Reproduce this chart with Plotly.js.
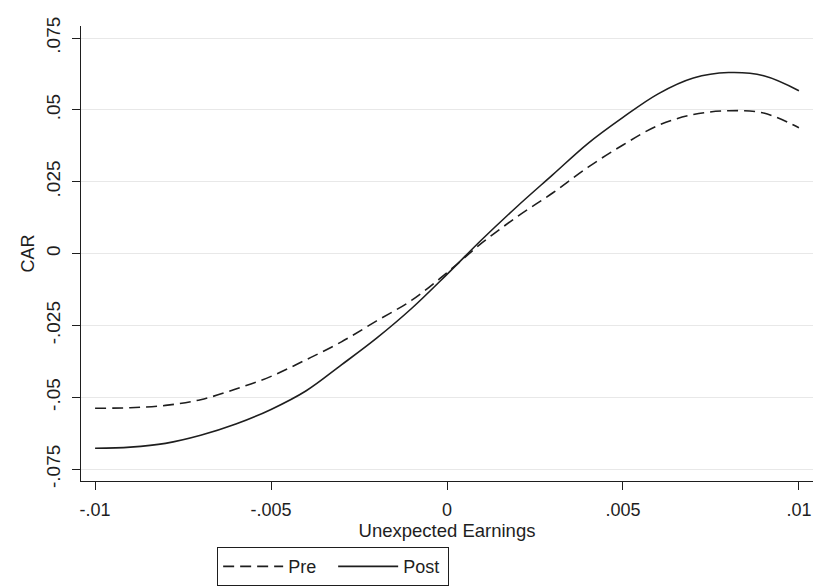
<!DOCTYPE html>
<html>
<head>
<meta charset="utf-8">
<script src="https://cdn.plot.ly/plotly-3.0.1.min.js"></script>
<style>html,body{margin:0;padding:0;background:#fff}#chart{width:815px;height:587px}</style>
</head>
<body>
<div id="chart"></div>
<script>
const ueX = [-0.010,-0.009,-0.008,-0.007,-0.006,-0.005,-0.004,-0.003,-0.002,-0.001,0.000,0.001,0.002,0.003,0.004,0.005,0.006,0.007,0.008,0.009,0.010];
const carPre = [-0.0538,-0.0536,-0.0528,-0.0508,-0.0471,-0.0427,-0.0369,-0.0307,-0.0234,-0.0162,-0.0066,0.0038,0.0129,0.0211,0.0300,0.0378,0.0446,0.0484,0.0497,0.0489,0.0438];
const carPost = [-0.0677,-0.0673,-0.0660,-0.0632,-0.0593,-0.0542,-0.0477,-0.0387,-0.0294,-0.0190,-0.0072,0.0050,0.0165,0.0274,0.0383,0.0474,0.0556,0.0611,0.0630,0.0619,0.0567];
const xTickVals = [-0.01,-0.005,0,0.005,0.01];
const xTickText = ["-.01","-.005","0",".005",".01"];
const yTickVals = [-0.075,-0.05,-0.025,0,0.025,0.05,0.075];
const yTickText = ["-.075","-.05","-.025","0",".025",".05",".075"];
const seriesNames = ["Pre","Post"];

const fam = "Liberation Sans, Arial, sans-serif";
const ink = "#1e1e1e";
const traces = [
  {x:ueX, y:carPre, name:seriesNames[0], type:"scatter", mode:"lines",
   line:{color:ink, width:1.6, dash:"11px,6px", shape:"spline", smoothing:1}},
  {x:ueX, y:carPost, name:seriesNames[1], type:"scatter", mode:"lines",
   line:{color:ink, width:1.6, shape:"spline", smoothing:1}}
];
const layout = {
  width:815, height:587,
  margin:{l:81, r:2, t:26, b:105},
  paper_bgcolor:"#fff", plot_bgcolor:"#fff",
  font:{family:fam, size:18, color:ink},
  showlegend:true,
  legend:{orientation:"h", x:0.186, xanchor:"left", y:-0.143, yanchor:"top",
    bordercolor:ink, borderwidth:1, font:{family:fam, size:18, color:ink},
    itemwidth:60, entrywidth:40, traceorder:"normal", bgcolor:"#fff"},
  xaxis:{range:[-0.0104,0.0104], tickvals:xTickVals, ticktext:xTickText,
    showline:true, linecolor:ink, linewidth:1.2, ticks:"outside", ticklen:8, tickcolor:ink,
    ticklabelstandoff:4,
    showgrid:false, zeroline:false, tickfont:{family:fam, size:18, color:ink},
    title:{text:"Unexpected Earnings", font:{family:fam, size:18.5, color:ink}, standoff:2}},
  yaxis:{range:[-0.0791,0.0792], tickvals:yTickVals, ticktext:yTickText, tickangle:-90,
    showline:true, linecolor:ink, linewidth:1.2, ticks:"outside", ticklen:8, tickcolor:ink,
    ticklabelstandoff:4,
    showgrid:true, gridcolor:"#e8e8e8", gridwidth:1, zeroline:false,
    tickfont:{family:fam, size:19, color:ink},
    title:{text:"CAR", font:{family:fam, size:18, color:ink}, standoff:4}}
};
Plotly.newPlot("chart", traces, layout, {displayModeBar:false, staticPlot:true});
</script>
</body>
</html>
